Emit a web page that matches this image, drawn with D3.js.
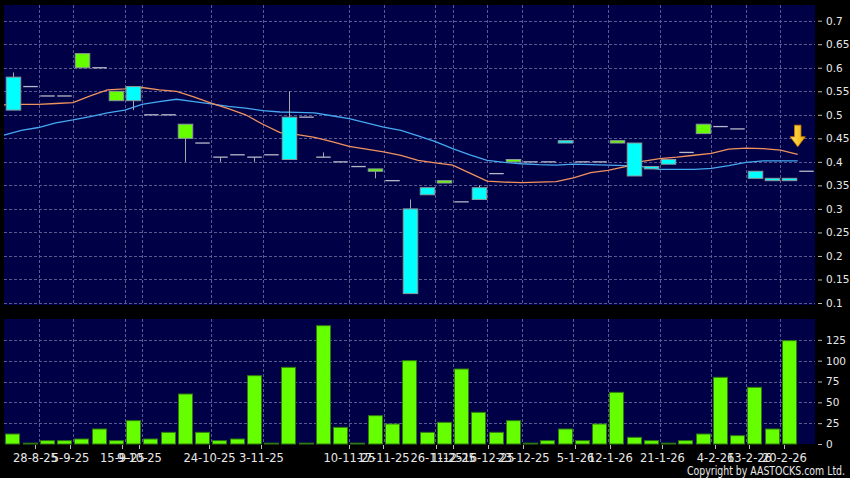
<!DOCTYPE html>
<html><head><meta charset="utf-8">
<script src="https://cdn.jsdelivr.net/npm/d3@7"></script>
<style>html,body{margin:0;padding:0;background:#000;}svg{display:block;}</style>
</head><body>
<svg id="chart" width="850" height="478"></svg>
<script>
// ---- data ----
const opens  = [0.58,0.56,0.54,0.54,0.60,0.60,0.53,0.56,0.50,0.50,0.45,0.44,0.41,0.415,0.41,0.415,0.495,0.495,0.41,0.40,0.39,0.38,0.36,0.30,0.345,0.355,0.315,0.345,0.375,0.40,0.40,0.40,0.445,0.40,0.40,0.44,0.44,0.39,0.405,0.42,0.46,0.475,0.47,0.38,0.365,0.365,0.38];
const closes = [0.51,0.56,0.54,0.54,0.63,0.60,0.55,0.53,0.50,0.50,0.48,0.44,0.41,0.415,0.41,0.415,0.405,0.495,0.41,0.40,0.39,0.385,0.36,0.12,0.33,0.36,0.315,0.32,0.375,0.405,0.40,0.40,0.44,0.40,0.40,0.445,0.37,0.385,0.395,0.42,0.48,0.475,0.47,0.365,0.36,0.36,0.38];
const highs  = [0.59,0.56,0.54,0.54,0.63,0.60,0.55,0.56,0.50,0.50,0.48,0.44,0.41,0.415,0.41,0.415,0.55,0.495,0.42,0.40,0.39,0.385,0.36,0.32,0.345,0.36,0.315,0.35,0.375,0.405,0.40,0.40,0.445,0.40,0.40,0.445,0.44,0.39,0.405,0.42,0.48,0.475,0.47,0.38,0.365,0.365,0.38];
const lows   = [0.51,0.56,0.54,0.54,0.60,0.60,0.53,0.51,0.50,0.50,0.40,0.44,0.40,0.415,0.40,0.415,0.405,0.495,0.41,0.40,0.39,0.365,0.36,0.12,0.33,0.355,0.315,0.32,0.375,0.40,0.40,0.40,0.44,0.40,0.40,0.44,0.37,0.385,0.395,0.42,0.46,0.475,0.47,0.365,0.36,0.36,0.38];
const volumes = [12,1,4,4,6,18,4,28,6,14,60,14,4,6,82,1,92,1,142,20,1,34,24,100,14,26,90,38,14,28,1,4,18,4,24,62,8,4,1,4,12,80,10,68,18,124,0];
const maShort = [0.521,0.522,0.522,0.524,0.526,0.540,0.553,0.555,0.558,0.553,0.550,0.538,0.525,0.513,0.500,0.480,0.462,0.458,0.452,0.443,0.433,0.427,0.421,0.414,0.403,0.398,0.393,0.376,0.359,0.357,0.356,0.357,0.358,0.366,0.377,0.382,0.390,0.401,0.407,0.410,0.414,0.418,0.427,0.429,0.428,0.425,0.416];
const maLong  = [0.457,0.467,0.473,0.483,0.489,0.496,0.504,0.510,0.522,0.528,0.533,0.528,0.523,0.518,0.514,0.509,0.506,0.505,0.504,0.498,0.492,0.483,0.474,0.467,0.455,0.443,0.428,0.415,0.403,0.399,0.396,0.394,0.393,0.395,0.394,0.393,0.392,0.390,0.384,0.384,0.384,0.386,0.392,0.399,0.402,0.402,0.402];
const dateLabels = ["28-8-25","5-9-25","15-9-25","9-10-25","24-10-25","3-11-25","10-11-25","17-11-25","26-11-25","1-12-25","16-12-25","23-12-25","5-1-26","12-1-26","21-1-26","4-2-26","13-2-26","20-2-26"];
const dateIndex  = [1,3,6,7,11,14,19,21,24,25,27,29,32,34,37,40,42,44];
const priceTicks = [0.1,0.15,0.2,0.25,0.3,0.35,0.4,0.45,0.5,0.55,0.6,0.65,0.7];
const volumeTicks = [0,25,50,75,100,125];

// ---- layout ----
const N = opens.length;
const L = 4, R = 815;
const P = {top:5, bottom:305};
const V = {top:319, bottom:444};
const BG = "#000046", GRID = "#5a5a92", TXT = "#e8e8e8";

const svg = d3.select("#chart");
svg.append("rect").attr("width",850).attr("height",478).attr("fill","#000");

const x = d3.scaleLinear().domain([-0.5, N-0.5]).range([L, R]);
const step = x(1)-x(0);
const yP = d3.scaleLinear().domain([0.1,0.7]).range([303,20.7]);
const yV = d3.scaleLinear().domain([0,150]).range([V.bottom, V.top]);
// date-label axis is drawn very slightly wider than the grid
const xLab = d3.scaleLinear().domain([-0.5, N-0.5]).range([L-4, R+4.2]);

// panels
[P,V].forEach(p => svg.append("rect").attr("x",L).attr("y",p.top).attr("width",R-L).attr("height",p.bottom-p.top).attr("fill",BG));

// grids
const g = svg.append("g").attr("stroke",GRID).attr("stroke-dasharray","3,2").attr("stroke-width",1);
priceTicks.forEach(t => g.append("line").attr("x1",L).attr("x2",R).attr("y1",Math.round(yP(t))+0.5).attr("y2",Math.round(yP(t))+0.5));
volumeTicks.forEach(t => { if (t>0) g.append("line").attr("x1",L).attr("x2",R).attr("y1",Math.round(yV(t))+0.5).attr("y2",Math.round(yV(t))+0.5); });
dateIndex.forEach(i => {
  const xx = Math.round(x(i+0.5))+0.5;
  g.append("line").attr("x1",xx).attr("x2",xx).attr("y1",P.top).attr("y2",P.bottom);
  g.append("line").attr("x1",xx).attr("x2",xx).attr("y1",V.top).attr("y2",V.bottom);
});

// moving averages
const maLine = d3.line().x((d,k)=>x(k-0.5)).y(d=>yP(d));
svg.append("path").datum(maLong).attr("d",maLine).attr("fill","none").attr("stroke","#46a8f0").attr("stroke-width",1.3);
svg.append("path").datum(maShort).attr("d",maLine).attr("fill","none").attr("stroke","#f0925e").attr("stroke-width",1.3);

// candles
const bw = step*0.84;
const cg = svg.append("g");
d3.range(N).forEach(i => {
  const o=opens[i], c=closes[i], h=highs[i], l=lows[i];
  const cx = Math.round(x(i))+0.5;
  const top = Math.max(o,c), bot = Math.min(o,c);
  if (h>top) cg.append("line").attr("x1",cx).attr("x2",cx).attr("y1",yP(h)).attr("y2",yP(top)).attr("stroke","#a8a8a8");
  if (l<bot) cg.append("line").attr("x1",cx).attr("x2",cx).attr("y1",yP(bot)).attr("y2",yP(l)).attr("stroke","#a8a8a8");
  if (o===c) {
    cg.append("line").attr("x1",cx-bw/2).attr("x2",cx+bw/2).attr("y1",yP(o)).attr("y2",yP(o)).attr("stroke","#b8b8c8").attr("stroke-width",1.3);
  } else {
    const y1 = yP(top), y2 = yP(bot);
    cg.append("rect").attr("x",cx-bw/2).attr("y",y1).attr("width",bw).attr("height",Math.max(2,y2-y1))
      .attr("fill", c>o ? "#66ff00" : "#00ffff").attr("stroke","#8a9a9a").attr("stroke-width",1);
  }
});

// signal arrow
(function(){
  const ax = x(N-1.5), yt = yP(0.478), yb = yP(0.432);
  const hh = 10, sw = 3.2, hw = 7.5;
  const path = `M${ax-sw},${yt} L${ax+sw},${yt} L${ax+sw},${yb-hh} L${ax+hw},${yb-hh} L${ax},${yb} L${ax-hw},${yb-hh} L${ax-sw},${yb-hh} Z`;
  const grad = svg.append("defs").append("linearGradient").attr("id","ag").attr("x1",0).attr("x2",1);
  grad.append("stop").attr("offset","0%").attr("stop-color","#ffe066");
  grad.append("stop").attr("offset","100%").attr("stop-color","#f0b000");
  svg.append("path").attr("d",path).attr("fill","url(#ag)").attr("stroke","#d08000").attr("stroke-width",0.8);
})();

// volume bars
svg.append("g").selectAll("rect").data(volumes).join("rect")
  .attr("x",(d,i)=>Math.round(x(i)-bw/2)+0.5)
  .attr("y",d=>yV(d))
  .attr("width",Math.round(bw))
  .attr("height",d=>V.bottom-yV(d))
  .attr("fill","#66ff00").attr("stroke","#2f7a10").attr("stroke-width",1)
  .attr("display",d=>d>0?null:"none");

// right axes
const axP = d3.axisRight(yP).tickValues(priceTicks).tickSize(4).tickPadding(4).tickFormat(d=>d3.format("")(+d.toFixed(2)));
const gp = svg.append("g").attr("transform",`translate(${R+3},0)`).call(axP);
const axV = d3.axisRight(yV).tickValues(volumeTicks).tickSize(4).tickPadding(4);
const gv = svg.append("g").attr("transform",`translate(${R+3},0)`).call(axV);
[gp,gv].forEach(a=>{
  a.select(".domain").remove();
  a.selectAll("line").attr("stroke","#bbbbbb");
  a.selectAll("text").attr("fill",TXT).attr("font-family","DejaVu Sans").attr("font-size",10.5);
});

// x axis
const xa = svg.append("g");
dateIndex.forEach((i,k)=>{
  const xx = Math.round(xLab(i+0.5))+0.5;
  xa.append("line").attr("x1",xx).attr("x2",xx).attr("y1",V.bottom+1).attr("y2",V.bottom+5).attr("stroke","#bbbbbb");
  xa.append("text").attr("x",xx).attr("y",462).attr("text-anchor","middle").attr("fill",TXT)
    .attr("font-family","DejaVu Sans").attr("font-size",11.5).text(dateLabels[k]);
});

svg.append("text").attr("x",845).attr("y",475).attr("text-anchor","end").attr("fill",TXT)
  .attr("font-family","DejaVu Sans").attr("font-size",11.5)
  .attr("textLength",158).attr("lengthAdjust","spacingAndGlyphs").text("Copyright by AASTOCKS.com Ltd.");
</script>
</body></html>
